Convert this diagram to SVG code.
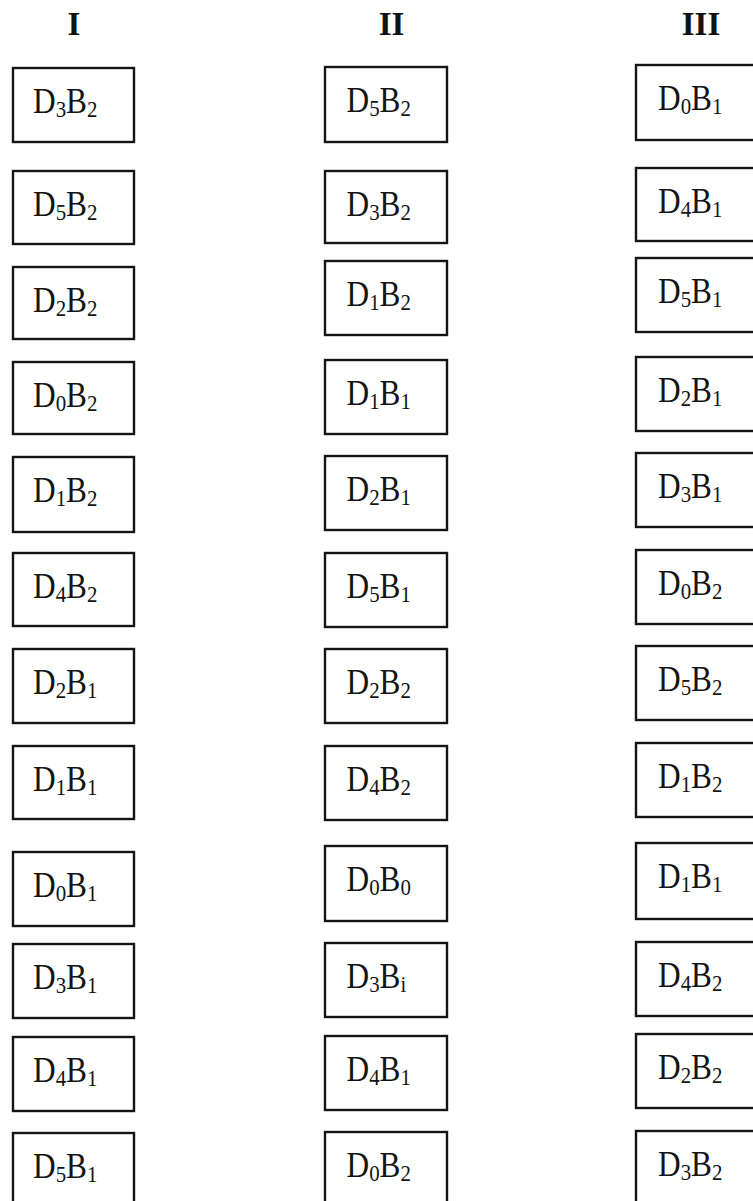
<svg xmlns="http://www.w3.org/2000/svg" width="753" height="1201" viewBox="0 0 753 1201">
<style>
.box{fill:#fff;stroke:#141414;stroke-width:2.4}
.lbl{font-family:"Liberation Serif","Times New Roman",serif;font-size:36px;fill:#141414}
.sub{font-size:24px}
.hdr{font-family:"Liberation Serif","Times New Roman",serif;font-size:33px;font-weight:bold;fill:#111;text-anchor:middle}
</style>
<rect x="0" y="0" width="753" height="1201" fill="#fff"/>
<g id="headers">
<text class="hdr" x="74" y="35">I</text>
<text class="hdr" x="391.5" y="35">II</text>
<text class="hdr" x="701" y="35">III</text>
</g>
<g id="connectors"></g>
<!-- Column I -->
<g id="c1r1"><rect class="box" x="13" y="68" width="121" height="74"/><text class="lbl" transform="translate(33,113) scale(0.87,1)">D<tspan class="sub" dy="4">3</tspan><tspan dy="-4">B</tspan><tspan class="sub" dy="4">2</tspan></text></g>
<g id="c1r2"><rect class="box" x="13" y="171" width="121" height="73"/><text class="lbl" transform="translate(33,216) scale(0.87,1)">D<tspan class="sub" dy="4">5</tspan><tspan dy="-4">B</tspan><tspan class="sub" dy="4">2</tspan></text></g>
<g id="c1r3"><rect class="box" x="13" y="267" width="121" height="72"/><text class="lbl" transform="translate(33,312) scale(0.87,1)">D<tspan class="sub" dy="4">2</tspan><tspan dy="-4">B</tspan><tspan class="sub" dy="4">2</tspan></text></g>
<g id="c1r4"><rect class="box" x="13" y="362" width="121" height="72"/><text class="lbl" transform="translate(33,407) scale(0.87,1)">D<tspan class="sub" dy="4">0</tspan><tspan dy="-4">B</tspan><tspan class="sub" dy="4">2</tspan></text></g>
<g id="c1r5"><rect class="box" x="13" y="457" width="121" height="75"/><text class="lbl" transform="translate(33,502) scale(0.87,1)">D<tspan class="sub" dy="4">1</tspan><tspan dy="-4">B</tspan><tspan class="sub" dy="4">2</tspan></text></g>
<g id="c1r6"><rect class="box" x="13" y="553" width="121" height="73"/><text class="lbl" transform="translate(33,598) scale(0.87,1)">D<tspan class="sub" dy="4">4</tspan><tspan dy="-4">B</tspan><tspan class="sub" dy="4">2</tspan></text></g>
<g id="c1r7"><rect class="box" x="13" y="649" width="121" height="74"/><text class="lbl" transform="translate(33,694) scale(0.87,1)">D<tspan class="sub" dy="4">2</tspan><tspan dy="-4">B</tspan><tspan class="sub" dy="4">1</tspan></text></g>
<g id="c1r8"><rect class="box" x="13" y="746" width="121" height="73"/><text class="lbl" transform="translate(33,791) scale(0.87,1)">D<tspan class="sub" dy="4">1</tspan><tspan dy="-4">B</tspan><tspan class="sub" dy="4">1</tspan></text></g>
<g id="c1r9"><rect class="box" x="13" y="852" width="121" height="74"/><text class="lbl" transform="translate(33,897) scale(0.87,1)">D<tspan class="sub" dy="4">0</tspan><tspan dy="-4">B</tspan><tspan class="sub" dy="4">1</tspan></text></g>
<g id="c1r10"><rect class="box" x="13" y="944" width="121" height="74"/><text class="lbl" transform="translate(33,989) scale(0.87,1)">D<tspan class="sub" dy="4">3</tspan><tspan dy="-4">B</tspan><tspan class="sub" dy="4">1</tspan></text></g>
<g id="c1r11"><rect class="box" x="13" y="1037" width="121" height="74"/><text class="lbl" transform="translate(33,1082) scale(0.87,1)">D<tspan class="sub" dy="4">4</tspan><tspan dy="-4">B</tspan><tspan class="sub" dy="4">1</tspan></text></g>
<g id="c1r12"><rect class="box" x="13" y="1133" width="121" height="74"/><text class="lbl" transform="translate(33,1178) scale(0.87,1)">D<tspan class="sub" dy="4">5</tspan><tspan dy="-4">B</tspan><tspan class="sub" dy="4">1</tspan></text></g>
<!-- Column II -->
<g id="c2r1"><rect class="box" x="325" y="67" width="122" height="75"/><text class="lbl" transform="translate(346.5,112) scale(0.87,1)">D<tspan class="sub" dy="4">5</tspan><tspan dy="-4">B</tspan><tspan class="sub" dy="4">2</tspan></text></g>
<g id="c2r2"><rect class="box" x="325" y="171" width="122" height="72"/><text class="lbl" transform="translate(346.5,216) scale(0.87,1)">D<tspan class="sub" dy="4">3</tspan><tspan dy="-4">B</tspan><tspan class="sub" dy="4">2</tspan></text></g>
<g id="c2r3"><rect class="box" x="325" y="261" width="122" height="74"/><text class="lbl" transform="translate(346.5,306) scale(0.87,1)">D<tspan class="sub" dy="4">1</tspan><tspan dy="-4">B</tspan><tspan class="sub" dy="4">2</tspan></text></g>
<g id="c2r4"><rect class="box" x="325" y="360" width="122" height="74"/><text class="lbl" transform="translate(346.5,405) scale(0.87,1)">D<tspan class="sub" dy="4">1</tspan><tspan dy="-4">B</tspan><tspan class="sub" dy="4">1</tspan></text></g>
<g id="c2r5"><rect class="box" x="325" y="456" width="122" height="74"/><text class="lbl" transform="translate(346.5,501) scale(0.87,1)">D<tspan class="sub" dy="4">2</tspan><tspan dy="-4">B</tspan><tspan class="sub" dy="4">1</tspan></text></g>
<g id="c2r6"><rect class="box" x="325" y="553" width="122" height="74"/><text class="lbl" transform="translate(346.5,598) scale(0.87,1)">D<tspan class="sub" dy="4">5</tspan><tspan dy="-4">B</tspan><tspan class="sub" dy="4">1</tspan></text></g>
<g id="c2r7"><rect class="box" x="325" y="649" width="122" height="74"/><text class="lbl" transform="translate(346.5,694) scale(0.87,1)">D<tspan class="sub" dy="4">2</tspan><tspan dy="-4">B</tspan><tspan class="sub" dy="4">2</tspan></text></g>
<g id="c2r8"><rect class="box" x="325" y="746" width="122" height="74"/><text class="lbl" transform="translate(346.5,791) scale(0.87,1)">D<tspan class="sub" dy="4">4</tspan><tspan dy="-4">B</tspan><tspan class="sub" dy="4">2</tspan></text></g>
<g id="c2r9"><rect class="box" x="325" y="846" width="122" height="75"/><text class="lbl" transform="translate(346.5,891) scale(0.87,1)">D<tspan class="sub" dy="4">0</tspan><tspan dy="-4">B</tspan><tspan class="sub" dy="4">0</tspan></text></g>
<g id="c2r10"><rect class="box" x="325" y="943" width="122" height="74"/><text class="lbl" transform="translate(346.5,988) scale(0.87,1)">D<tspan class="sub" dy="4">3</tspan><tspan dy="-4">B</tspan><tspan class="sub" dy="4">i</tspan></text></g>
<g id="c2r11"><rect class="box" x="325" y="1036" width="122" height="74"/><text class="lbl" transform="translate(346.5,1081) scale(0.87,1)">D<tspan class="sub" dy="4">4</tspan><tspan dy="-4">B</tspan><tspan class="sub" dy="4">1</tspan></text></g>
<g id="c2r12"><rect class="box" x="325" y="1132" width="122" height="76"/><text class="lbl" transform="translate(346.5,1177) scale(0.87,1)">D<tspan class="sub" dy="4">0</tspan><tspan dy="-4">B</tspan><tspan class="sub" dy="4">2</tspan></text></g>
<!-- Column III -->
<g id="c3r1"><rect class="box" x="636" y="65" width="130" height="75"/><text class="lbl" transform="translate(658,110) scale(0.87,1)">D<tspan class="sub" dy="4">0</tspan><tspan dy="-4">B</tspan><tspan class="sub" dy="4">1</tspan></text></g>
<g id="c3r2"><rect class="box" x="636" y="168" width="130" height="73"/><text class="lbl" transform="translate(658,213) scale(0.87,1)">D<tspan class="sub" dy="4">4</tspan><tspan dy="-4">B</tspan><tspan class="sub" dy="4">1</tspan></text></g>
<g id="c3r3"><rect class="box" x="636" y="258" width="130" height="74"/><text class="lbl" transform="translate(658,303) scale(0.87,1)">D<tspan class="sub" dy="4">5</tspan><tspan dy="-4">B</tspan><tspan class="sub" dy="4">1</tspan></text></g>
<g id="c3r4"><rect class="box" x="636" y="357" width="130" height="74"/><text class="lbl" transform="translate(658,402) scale(0.87,1)">D<tspan class="sub" dy="4">2</tspan><tspan dy="-4">B</tspan><tspan class="sub" dy="4">1</tspan></text></g>
<g id="c3r5"><rect class="box" x="636" y="453" width="130" height="74"/><text class="lbl" transform="translate(658,498) scale(0.87,1)">D<tspan class="sub" dy="4">3</tspan><tspan dy="-4">B</tspan><tspan class="sub" dy="4">1</tspan></text></g>
<g id="c3r6"><rect class="box" x="636" y="550" width="130" height="74"/><text class="lbl" transform="translate(658,595) scale(0.87,1)">D<tspan class="sub" dy="4">0</tspan><tspan dy="-4">B</tspan><tspan class="sub" dy="4">2</tspan></text></g>
<g id="c3r7"><rect class="box" x="636" y="646" width="130" height="74"/><text class="lbl" transform="translate(658,691) scale(0.87,1)">D<tspan class="sub" dy="4">5</tspan><tspan dy="-4">B</tspan><tspan class="sub" dy="4">2</tspan></text></g>
<g id="c3r8"><rect class="box" x="636" y="743" width="130" height="74"/><text class="lbl" transform="translate(658,788) scale(0.87,1)">D<tspan class="sub" dy="4">1</tspan><tspan dy="-4">B</tspan><tspan class="sub" dy="4">2</tspan></text></g>
<g id="c3r9"><rect class="box" x="636" y="843" width="130" height="76"/><text class="lbl" transform="translate(658,888) scale(0.87,1)">D<tspan class="sub" dy="4">1</tspan><tspan dy="-4">B</tspan><tspan class="sub" dy="4">1</tspan></text></g>
<g id="c3r10"><rect class="box" x="636" y="942" width="130" height="74"/><text class="lbl" transform="translate(658,987) scale(0.87,1)">D<tspan class="sub" dy="4">4</tspan><tspan dy="-4">B</tspan><tspan class="sub" dy="4">2</tspan></text></g>
<g id="c3r11"><rect class="box" x="636" y="1034" width="130" height="74"/><text class="lbl" transform="translate(658,1079) scale(0.87,1)">D<tspan class="sub" dy="4">2</tspan><tspan dy="-4">B</tspan><tspan class="sub" dy="4">2</tspan></text></g>
<g id="c3r12"><rect class="box" x="636" y="1131" width="130" height="77"/><text class="lbl" transform="translate(658,1176) scale(0.87,1)">D<tspan class="sub" dy="4">3</tspan><tspan dy="-4">B</tspan><tspan class="sub" dy="4">2</tspan></text></g>
</svg>
